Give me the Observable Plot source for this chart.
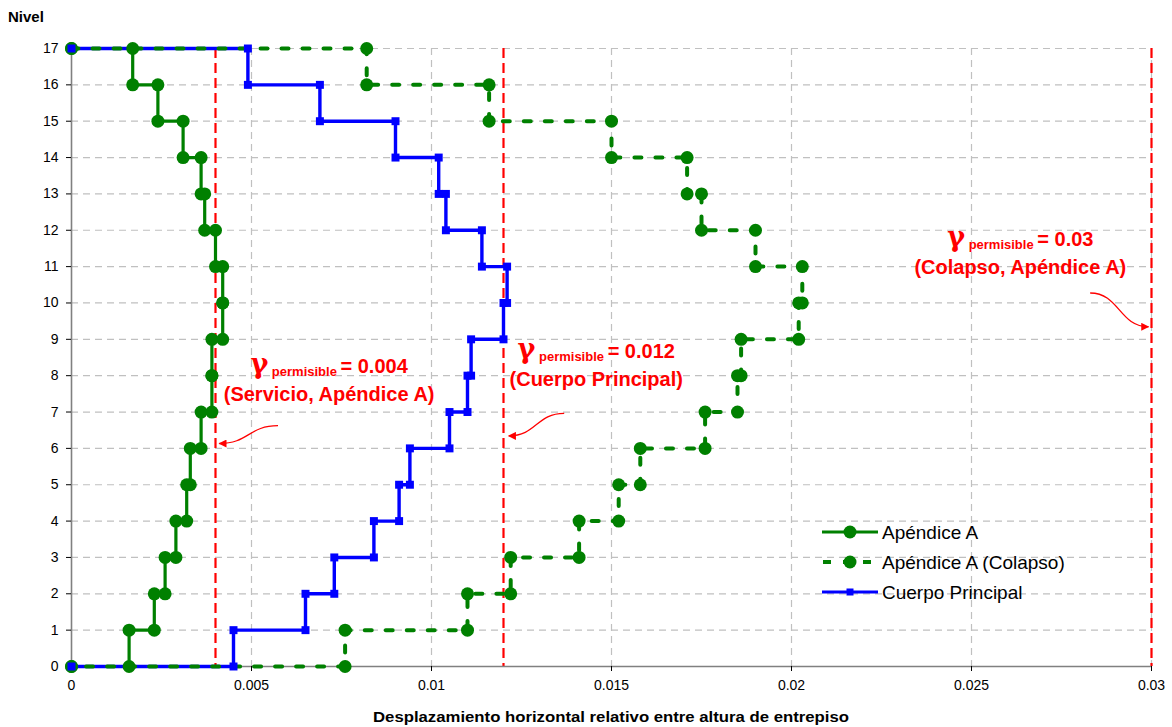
<!DOCTYPE html>
<html><head><meta charset="utf-8">
<script src="https://cdn.jsdelivr.net/npm/d3@7"></script>
<script src="https://cdn.jsdelivr.net/npm/@observablehq/plot@0.6"></script>
<style>
body{margin:0;background:#fff;}
svg text{font-family:"Liberation Sans",Arial,sans-serif;}
</style>
</head><body><div id="chart"></div>
<script>
// ---- data (drift per story, story 1..17) ----
const stories = d3.range(1, 18);
const apendiceA = [0.0016, 0.0023, 0.0026, 0.0029, 0.0032, 0.0033, 0.0036, 0.0039, 0.0039, 0.0042, 0.0042, 0.0040, 0.0037, 0.0036, 0.0031, 0.0024, 0.0017];
const colapso   = [0.0076, 0.0110, 0.0122, 0.0141, 0.0152, 0.0158, 0.0176, 0.0185, 0.0186, 0.0202, 0.0203, 0.0190, 0.0175, 0.0171, 0.0150, 0.0116, 0.0082];
const cuerpo    = [0.0045, 0.0065, 0.0073, 0.0084, 0.0091, 0.0094, 0.0105, 0.0110, 0.0111, 0.0120, 0.0121, 0.0114, 0.0104, 0.0102, 0.0090, 0.0069, 0.0049];
const seriesNames = ["Apéndice A", "Apéndice A (Colapso)", "Cuerpo Principal"];
const xTicks = [0, 0.005, 0.01, 0.015, 0.02, 0.025, 0.03];
const xTickLabels = ["0", "0.005", "0.01", "0.015", "0.02", "0.025", "0.03"];
const yTicks = d3.range(0, 18);
const limits = [0.004, 0.012, 0.03];
const limitValues = ["0.004", "0.012", "0.03"];
const limitNotes = ["(Servicio, Apéndice A)", "(Cuerpo Principal)", "(Colapso, Apéndice A)"];
const xTitle = "Desplazamiento horizontal relativo entre altura de entrepiso";
const yTitle = "Nivel";

// ---- layout (annotation anchors in data units) ----
const labelAnchors = [{x: 0.00717, y: 8.05}, {x: 0.01459, y: 8.46}, {x: 0.02637, y: 11.55}];
const arrowAnchors = [
  {x1: 0.00575, y1: 6.61, x2: 0.00412, y2: 6.12},
  {x1: 0.0137, y1: 6.95, x2: 0.01216, y2: 6.33},
  {x1: 0.02831, y1: 10.26, x2: 0.02993, y2: 9.33}
];

const GREEN = "#008000", BLUE = "#0000ff", RED = "#ff0000", GRID = "#c0c0c0", AXIS = "#808080";

function steps(drifts) {
  const pts = [{x: 0, y: 17}];
  for (let s = 17; s >= 1; s--) {
    const d = drifts[stories.indexOf(s)];
    pts.push({x: d, y: s}, {x: d, y: s - 1});
  }
  pts.push({x: 0, y: 0});
  return pts;
}
const ptsA = steps(apendiceA), ptsC = steps(colapso), ptsB = steps(cuerpo);

const plot = Plot.plot({
  width: 1172,
  height: 727,
  marginLeft: 71,
  marginRight: 21,
  marginTop: 48,
  marginBottom: 61,
  style: {background: "#fff", fontFamily: "Liberation Sans, Arial, sans-serif", overflow: "visible"},
  x: {domain: [0, 0.03]},
  y: {domain: [0, 17]},
  marks: [
    Plot.ruleY(yTicks.filter(d => d > 0), {stroke: GRID, strokeWidth: 1.2, strokeDasharray: "7,5"}),
    Plot.ruleX(xTicks.filter(d => d > 0), {stroke: GRID, strokeWidth: 1.2, strokeDasharray: "7,5"}),
    Plot.ruleX(limits, {stroke: RED, strokeWidth: 2.2, strokeDasharray: "10,5"}),
    Plot.ruleX([0], {stroke: AXIS, strokeWidth: 1.6}),
    Plot.ruleY([0], {stroke: AXIS, strokeWidth: 1.6}),
    Plot.axisX({ticks: xTicks, tickFormat: (d, i) => xTickLabels[i], tickSize: 5, tickPadding: 9, fontSize: 14, stroke: "#000", label: null}),
    Plot.axisY({ticks: yTicks, tickFormat: d => String(d), tickSize: 5, tickPadding: 8, fontSize: 14, stroke: "#000", label: null}),
    Plot.line(ptsA, {x: "x", y: "y", stroke: GREEN, strokeWidth: 3.2}),
    Plot.line(ptsB, {x: "x", y: "y", stroke: BLUE, strokeWidth: 3.4}),
    Plot.line(ptsC, {x: "x", y: "y", stroke: GREEN, strokeWidth: 4, strokeDasharray: "7,14"}),
    Plot.dot(ptsA, {x: "x", y: "y", r: 6.5, fill: GREEN}),
    Plot.dot(ptsC, {x: "x", y: "y", r: 6.5, fill: GREEN}),
    Plot.dot(ptsB, {x: "x", y: "y", r: 4.5, symbol: "square", fill: BLUE})
  ]
});

const svg = d3.select(plot);
const xs = plot.scale("x"), ys = plot.scale("y");
const X = v => xs.apply(v), Y = v => ys.apply(v);

// arrowhead marker
svg.append("defs").append("marker")
  .attr("id", "ah").attr("viewBox", "0 0 10 10").attr("refX", 9).attr("refY", 5)
  .attr("markerWidth", 11).attr("markerHeight", 8).attr("markerUnits", "userSpaceOnUse")
  .attr("orient", "auto")
  .append("path").attr("d", "M0,0 L10,5 L0,10 z").attr("fill", RED);

// annotations
limits.forEach((lim, i) => {
  const a = labelAnchors[i];
  const t = svg.append("text").attr("x", X(a.x)).attr("y", Y(a.y))
    .attr("text-anchor", "middle").attr("fill", RED).attr("font-weight", "bold");
  t.append("tspan").attr("font-size", 27).attr("font-family", "DejaVu Serif").text("γ");
  t.append("tspan").attr("font-size", 13).attr("dy", 3).text(" permisible ");
  t.append("tspan").attr("font-size", 20).attr("dy", -3).text("= " + limitValues[i]);
  svg.append("text").attr("x", X(a.x)).attr("y", Y(a.y) + 27.5)
    .attr("text-anchor", "middle").attr("fill", RED).attr("font-weight", "bold")
    .attr("font-size", 20).text(limitNotes[i]);
  const r = arrowAnchors[i];
  const sx = X(r.x1), sy = Y(r.y1), ex = X(r.x2), ey = Y(r.y2), mx = (sx + ex) / 2;
  svg.append("path")
    .attr("d", `M${sx},${sy} C${mx},${sy} ${mx},${ey} ${ex},${ey}`)
    .attr("fill", "none").attr("stroke", RED).attr("stroke-width", 1.3)
    .attr("marker-end", "url(#ah)");
});

// axis titles
svg.append("text").attr("x", 8).attr("y", 22).attr("text-anchor", "start").attr("font-weight", "bold")
  .attr("font-size", 15).attr("fill", "#000").text(yTitle);
svg.append("text").attr("x", (X(0) + X(0.03)) / 2).attr("y", 722).attr("text-anchor", "middle")
  .attr("font-weight", "bold").attr("font-size", 15).attr("fill", "#000")
  .attr("textLength", 476).attr("lengthAdjust", "spacingAndGlyphs").text(xTitle);

// legend
const lg = svg.append("g").attr("transform", "translate(822,532)");
const styles = [
  {stroke: GREEN, dash: null, w: 3.2, mark: "circle"},
  {stroke: GREEN, dash: "8,12", w: 4, mark: "circle"},
  {stroke: BLUE, dash: null, w: 3.2, mark: "square"}
];
seriesNames.forEach((name, i) => {
  const g = lg.append("g").attr("transform", `translate(0,${i * 30})`);
  const s = styles[i];
  const ln = g.append("line").attr("x1", 0).attr("x2", 56).attr("y1", 0).attr("y2", 0)
    .attr("stroke", s.stroke).attr("stroke-width", s.w);
  if (s.dash) ln.attr("stroke-dasharray", s.dash).attr("stroke-dashoffset", -1);
  if (s.mark === "circle") g.append("circle").attr("cx", 28).attr("cy", 0).attr("r", 6.5).attr("fill", s.stroke);
  else g.append("rect").attr("x", 24.5).attr("y", -3.5).attr("width", 7).attr("height", 7).attr("fill", s.stroke);
  g.append("text").attr("x", 60).attr("y", 0).attr("dy", "0.35em").attr("text-anchor", "start")
    .attr("font-size", 19).attr("fill", "#000").text(name);
});

document.getElementById("chart").appendChild(plot);
</script>
</body></html>
